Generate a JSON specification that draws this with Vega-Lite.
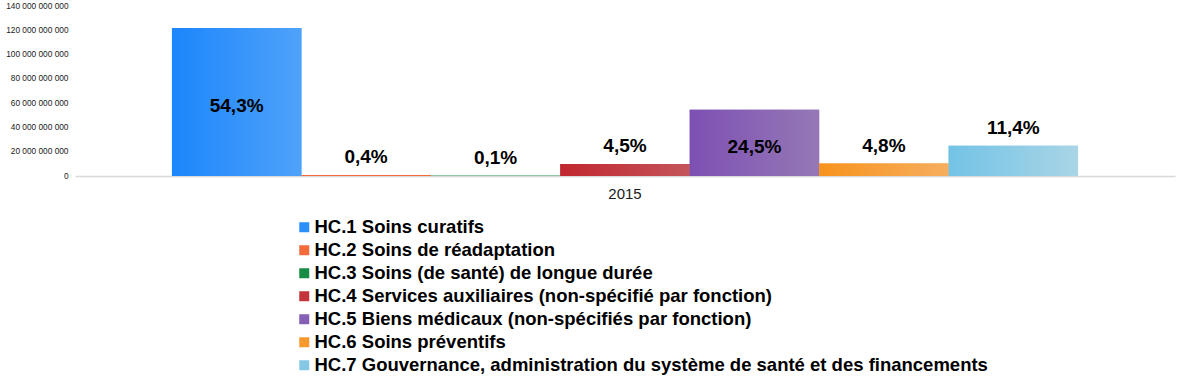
{
  "$schema": "https://vega.github.io/schema/vega-lite/v6.json",
  "width": 1100,
  "height": 170,
  "autosize": "none",
  "padding": {"left": 75, "top": 6, "right": 6, "bottom": 204},
  "background": "white",
  "config": {
    "view": {"stroke": null},
    "locale": {"number": {"decimal": ",", "thousands": " ", "grouping": [3], "currency": ["", " €"]}},
    "font": "Liberation Sans"
  },
  "data": {
    "values": [
      {"year": "2015", "cat": "HC.1 Soins curatifs", "value": 121900000000, "label": "54,3%"},
      {"year": "2015", "cat": "HC.2 Soins de réadaptation", "value": 900000000, "label": "0,4%"},
      {"year": "2015", "cat": "HC.3 Soins (de santé) de longue durée", "value": 300000000, "label": "0,1%"},
      {"year": "2015", "cat": "HC.4 Services auxiliaires (non-spécifié par fonction)", "value": 9800000000, "label": "4,5%"},
      {"year": "2015", "cat": "HC.5 Biens médicaux (non-spécifiés par fonction)", "value": 54600000000, "label": "24,5%"},
      {"year": "2015", "cat": "HC.6 Soins préventifs", "value": 10200000000, "label": "4,8%"},
      {"year": "2015", "cat": "HC.7 Gouvernance, administration du système de santé et des financements", "value": 25000000000, "label": "11,4%"}
    ]
  },
  "encoding": {
    "x": {
      "field": "year", "type": "nominal",
      "scale": {"paddingInner": 0, "paddingOuter": 0.107},
      "axis": {"title": null, "labelAngle": 0, "ticks": false, "domainColor": "#d9d9d9", "domainWidth": 1.5, "labelFontSize": 15, "labelColor": "#1a1a1a", "labelPadding": 10, "labelFont": "Liberation Sans", "zindex": 0}
    },
    "xOffset": {"field": "cat", "type": "nominal", "scale": {"paddingInner": 0, "paddingOuter": 0}, "sort": null},
    "y": {
      "field": "value", "type": "quantitative",
      "scale": {"domain": [0, 140000000000], "nice": false},
      "axis": {"title": null, "grid": false, "domain": false, "ticks": false, "tickCount": 7, "format": ",d", "labelFontSize": 8.3, "labelColor": "#1a1a1a", "labelPadding": 7, "labelFont": "Liberation Sans"}
    }
  },
  "layer": [
    {
      "mark": {"type": "bar"},
      "encoding": {
        "color": {
          "field": "cat", "type": "nominal", "sort": null,
          "scale": {
            "domain": ["HC.1 Soins curatifs", "HC.2 Soins de réadaptation", "HC.3 Soins (de santé) de longue durée", "HC.4 Services auxiliaires (non-spécifié par fonction)", "HC.5 Biens médicaux (non-spécifiés par fonction)", "HC.6 Soins préventifs", "HC.7 Gouvernance, administration du système de santé et des financements"],
            "range": ["#2b8ffa", "#f36b3b", "#178c45", "#c3353b", "#8560b5", "#f79a2e", "#85c8e6"]
          },
          "legend": {
            "title": null, "orient": "none", "legendX": 220, "legendY": 212,
            "direction": "vertical", "symbolType": "square", "symbolSize": 100, "symbolStrokeWidth": 0,
            "labelFontSize": 18.5, "labelFontWeight": "bold", "labelColor": "#000000", "labelFont": "Liberation Sans",
            "labelOffset": 1, "rowPadding": 4, "padding": 0, "labelLimit": 1000
          }
        }
      }
    },
    {
      "mark": {"type": "bar"},
      "encoding": {
        "fill": {
          "condition": [
            {"test": "datum.cat === 'HC.1 Soins curatifs'", "value": {"gradient": "linear", "x1": 0, "x2": 1, "y1": 0, "y2": 0, "stops": [{"offset": 0, "color": "#1c86fc"}, {"offset": 1, "color": "#4fa2f9"}]}},
            {"test": "datum.cat === 'HC.2 Soins de réadaptation'", "value": "#f26a38"},
            {"test": "datum.cat === 'HC.3 Soins (de santé) de longue durée'", "value": "#178c45"},
            {"test": "datum.cat === 'HC.4 Services auxiliaires (non-spécifié par fonction)'", "value": {"gradient": "linear", "x1": 0, "x2": 1, "y1": 0, "y2": 0, "stops": [{"offset": 0, "color": "#c1272e"}, {"offset": 1, "color": "#c4555b"}]}},
            {"test": "datum.cat === 'HC.5 Biens médicaux (non-spécifiés par fonction)'", "value": {"gradient": "linear", "x1": 0, "x2": 1, "y1": 0, "y2": 0, "stops": [{"offset": 0, "color": "#7c50b3"}, {"offset": 1, "color": "#9678b6"}]}},
            {"test": "datum.cat === 'HC.6 Soins préventifs'", "value": {"gradient": "linear", "x1": 0, "x2": 1, "y1": 0, "y2": 0, "stops": [{"offset": 0, "color": "#f7931e"}, {"offset": 1, "color": "#f6ae5e"}]}}
          ],
          "value": {"gradient": "linear", "x1": 0, "x2": 1, "y1": 0, "y2": 0, "stops": [{"offset": 0, "color": "#73c3e6"}, {"offset": 1, "color": "#a9d5e6"}]}
        }
      }
    },
    {
      "transform": [{"filter": "datum.value < 40000000000"}],
      "mark": {"type": "text", "fontSize": 19, "fontWeight": "bold", "font": "Liberation Sans", "color": "#000000", "baseline": "bottom", "dy": -8},
      "encoding": {
        "text": {"field": "label"}
      }
    },
    {
      "transform": [{"filter": "datum.value >= 40000000000"}, {"calculate": "datum.value / 2", "as": "mid"}],
      "mark": {"type": "text", "fontSize": 19, "fontWeight": "bold", "font": "Liberation Sans", "color": "#000000", "baseline": "middle", "dy": 4},
      "encoding": {
        "y": {"field": "mid", "type": "quantitative"},
        "text": {"field": "label"}
      }
    }
  ]
}
